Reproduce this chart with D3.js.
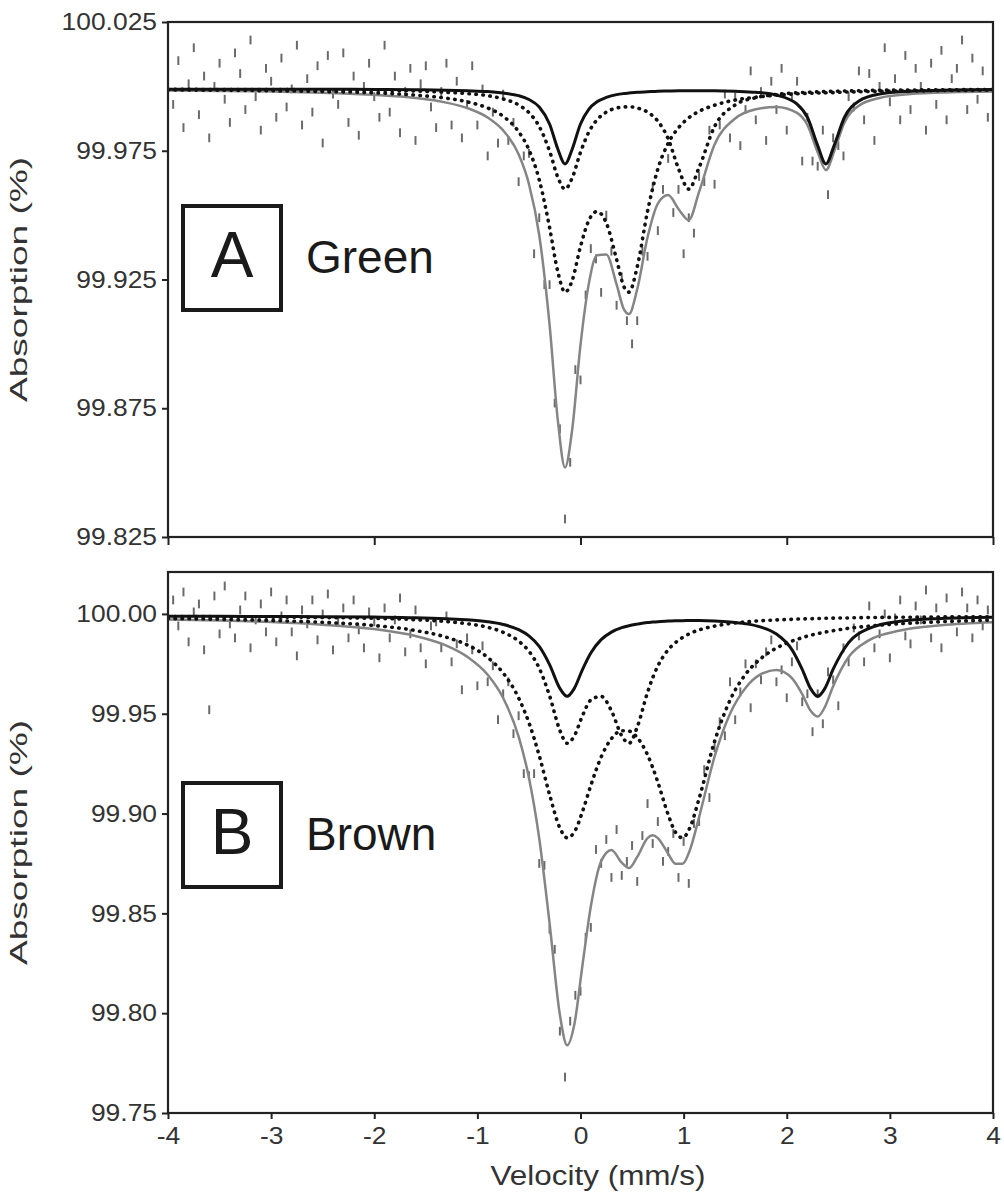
<!DOCTYPE html>
<html>
<head>
<meta charset="utf-8">
<script src="https://cdn.jsdelivr.net/npm/d3@7"></script>
<style>
body { margin: 0; background: #fff; }
text { font-family: "Liberation Sans", Arial, sans-serif; }
</style>
</head>
<body>
<svg id="chart" width="1004" height="1195"></svg>
<script>
// velocity channels of the measured spectra (mm/s)
var dataVel = [-4, -3.95, -3.9, -3.85, -3.8, -3.75, -3.7, -3.65, -3.6, -3.55, -3.5, -3.45, -3.4, -3.35, -3.3, -3.25, -3.2, -3.15, -3.1, -3.05,
	-3, -2.95, -2.9, -2.85, -2.8, -2.75, -2.7, -2.65, -2.6, -2.55, -2.5, -2.45, -2.4, -2.35, -2.3, -2.25, -2.2, -2.15, -2.1, -2.05,
	-2, -1.95, -1.9, -1.85, -1.8, -1.75, -1.7, -1.65, -1.6, -1.55, -1.5, -1.45, -1.4, -1.35, -1.3, -1.25, -1.2, -1.15, -1.1, -1.05,
	-1, -0.95, -0.9, -0.85, -0.8, -0.75, -0.7, -0.65, -0.6, -0.55, -0.5, -0.45, -0.4, -0.35, -0.3, -0.25, -0.2, -0.15, -0.1, -0.05,
	0, 0.05, 0.1, 0.15, 0.2, 0.25, 0.3, 0.35, 0.4, 0.45, 0.5, 0.55, 0.6, 0.65, 0.7, 0.75, 0.8, 0.85, 0.9, 0.95,
	1, 1.05, 1.1, 1.15, 1.2, 1.25, 1.3, 1.35, 1.4, 1.45, 1.5, 1.55, 1.6, 1.65, 1.7, 1.75, 1.8, 1.85, 1.9, 1.95,
	2, 2.05, 2.1, 2.15, 2.2, 2.25, 2.3, 2.35, 2.4, 2.45, 2.5, 2.55, 2.6, 2.65, 2.7, 2.75, 2.8, 2.85, 2.9, 2.95,
	3, 3.05, 3.1, 3.15, 3.2, 3.25, 3.3, 3.35, 3.4, 3.45, 3.5, 3.55, 3.6, 3.65, 3.7, 3.75, 3.8, 3.85, 3.9, 3.95, 4];

// measured absorption (%), panel A (green) and panel B (brown)
var absA = [100.006, 99.993, 100.010, 99.984, 100.001, 100.015, 99.989, 100.004, 99.980, 100.000,
	100.009, 99.995, 99.986, 100.013, 100.005, 99.991, 100.018, 99.996, 99.983, 100.007,
	100.002, 99.988, 100.011, 99.992, 99.999, 100.016, 99.985, 100.003, 99.990, 100.008,
	99.978, 100.012, 99.997, 99.993, 100.013, 99.986, 100.004, 99.981, 100.000, 100.009,
	99.996, 99.988, 100.016, 99.990, 100.004, 99.982, 99.998, 100.007, 99.979, 100.001,
	100.008, 99.992, 99.984, 99.998, 100.009, 99.985, 100.002, 99.980, 99.993, 100.008,
	99.985, 99.999, 99.973, 99.990, 99.978, 99.997, 99.979, 99.986, 99.963, 99.973,
	99.974, 99.935, 99.949, 99.923, 99.923, 99.877, 99.867, 99.832, 99.854, 99.890,
	99.886, 99.919, 99.937, 99.933, 99.920, 99.950, 99.936, 99.915, 99.926, 99.909,
	99.900, 99.909, 99.936, 99.934, 99.961, 99.944, 99.960, 99.972, 99.951, 99.960,
	99.935, 99.949, 99.943, 99.965, 99.963, 99.983, 99.962, 99.985, 99.997, 99.980,
	99.996, 99.977, 99.991, 100.006, 99.987, 99.998, 99.979, 100.002, 99.991, 100.007,
	99.983, 99.996, 100.002, 99.971, 99.988, 99.971, 99.969, 99.983, 99.958, 99.980,
	99.977, 99.973, 99.996, 99.992, 100.006, 99.987, 100.005, 99.979, 100.000, 100.015,
	99.994, 100.003, 99.987, 100.012, 99.991, 100.007, 100.000, 99.983, 100.009, 99.993,
	100.014, 99.987, 100.003, 100.007, 100.018, 99.991, 100.011, 99.995, 100.006, 99.988, 100.012];

var absB = [99.991, 100.007, 99.994, 100.011, 99.986, 100.001, 100.005, 99.982, 99.952, 100.009,
	99.990, 100.014, 99.995, 99.988, 100.002, 100.009, 99.983, 99.997, 100.005, 99.991,
	100.011, 99.986, 99.999, 100.007, 99.991, 99.979, 100.002, 99.995, 100.007, 99.987,
	100.000, 100.010, 99.982, 99.996, 100.003, 99.988, 100.007, 99.992, 99.983, 100.001,
	99.996, 99.978, 100.003, 99.988, 99.997, 100.008, 99.981, 99.990, 100.002, 99.983,
	99.975, 99.994, 99.996, 99.983, 99.999, 99.976, 99.985, 99.962, 99.988, 99.982,
	99.964, 99.984, 99.966, 99.974, 99.947, 99.960, 99.966, 99.940, 99.949, 99.920,
	99.919, 99.920, 99.875, 99.874, 99.842, 99.832, 99.791, 99.768, 99.796, 99.809,
	99.811, 99.838, 99.843, 99.882, 99.875, 99.887, 99.868, 99.892, 99.869, 99.876,
	99.884, 99.866, 99.889, 99.905, 99.885, 99.896, 99.876, 99.881, 99.890, 99.868,
	99.886, 99.865, 99.895, 99.896, 99.922, 99.908, 99.933, 99.946, 99.939, 99.966,
	99.947, 99.961, 99.975, 99.953, 99.975, 99.967, 99.981, 99.987, 99.966, 99.972,
	99.958, 99.976, 99.984, 99.956, 99.960, 99.941, 99.960, 99.945, 99.971, 99.967,
	99.954, 99.983, 99.976, 99.993, 99.989, 99.976, 100.004, 99.983, 99.990, 100.000,
	99.978, 99.998, 100.007, 99.989, 99.985, 100.004, 99.997, 100.012, 99.988, 100.003,
	99.983, 100.008, 99.997, 99.991, 100.011, 100.003, 99.988, 100.007, 99.994, 100.002, 99.987];

// half length of the error bars (%)
var errA = 0.0017;
var errB = 0.0022;

// fitted sub-spectra, panel A
var fitVelA = [-4, -3.5, -3, -2.5, -2, -1.6, -1.3, -1.1, -0.9, -0.75, -0.6, -0.5, -0.4, -0.3, -0.22, -0.15, -0.08, 0, 0.08, 0.16,
	0.25, 0.35, 0.42, 0.47, 0.55, 0.65, 0.75, 0.85, 0.95, 1.05, 1.15, 1.3, 1.5, 1.7, 1.9, 2.1, 2.2, 2.3, 2.38, 2.46,
	2.56, 2.7, 2.9, 3.2, 3.6, 4];
var solidA = [99.9989, 99.9989, 99.9989, 99.9989, 99.9988, 99.9987, 99.9985, 99.9983, 99.9980, 99.9974,
	99.9964, 99.9949, 99.9920, 99.9854, 99.9757, 99.9699, 99.9757, 99.9854, 99.9911, 99.9940,
	99.9957, 99.9968, 99.9972, 99.9974, 99.9977, 99.9979, 99.9981, 99.9982, 99.9983, 99.9983,
	99.9983, 99.9983, 99.9981, 99.9977, 99.9966, 99.9931, 99.9880, 99.9770, 99.9699, 99.9771,
	99.9880, 99.9943, 99.9970, 99.9981, 99.9986, 99.9988];
var dotted1A = [99.9989, 99.9988, 99.9988, 99.9986, 99.9985, 99.9982, 99.9977, 99.9972, 99.9964, 99.9951,
	99.9928, 99.9898, 99.9844, 99.9749, 99.9647, 99.9601, 99.9645, 99.9744, 99.9822, 99.9870,
	99.9900, 99.9916, 99.9920, 99.9921, 99.9916, 99.9900, 99.9865, 99.9797, 99.9681, 99.9601,
	99.9685, 99.9844, 99.9928, 99.9956, 99.9969, 99.9975, 99.9977, 99.9979, 99.9980, 99.9981,
	99.9982, 99.9983, 99.9985, 99.9986, 99.9987, 99.9988];
var dotted2A = [99.9986, 99.9985, 99.9983, 99.9980, 99.9975, 99.9966, 99.9954, 99.9940, 99.9916, 99.9884,
	99.9824, 99.9754, 99.9637, 99.9452, 99.9280, 99.9201, 99.9247, 99.9378, 99.9479, 99.9514,
	99.9470, 99.9328, 99.9223, 99.9201, 99.9299, 99.9515, 99.9679, 99.9779, 99.9839, 99.9878,
	99.9903, 99.9927, 99.9947, 99.9958, 99.9966, 99.9971, 99.9973, 99.9974, 99.9975, 99.9976,
	99.9978, 99.9979, 99.9981, 99.9982, 99.9984, 99.9985];
var totalA = [99.9984, 99.9982, 99.9980, 99.9975, 99.9967, 99.9955, 99.9937, 99.9916, 99.9879, 99.9829,
	99.9736, 99.9621, 99.9422, 99.9075, 99.8704, 99.8520, 99.8669, 99.8996, 99.9232, 99.9344,
	99.9347, 99.9231, 99.9135, 99.9116, 99.9212, 99.9414, 99.9545, 99.9578, 99.9524, 99.9481,
	99.9590, 99.9774, 99.9875, 99.9911, 99.9920, 99.9897, 99.9850, 99.9744, 99.9675, 99.9748,
	99.9860, 99.9925, 99.9955, 99.9970, 99.9977, 99.9980];

// fitted sub-spectra, panel B
var fitVelB = [-4, -3.5, -3, -2.5, -2, -1.6, -1.3, -1.1, -0.9, -0.75, -0.6, -0.5, -0.4, -0.3, -0.2, -0.13, -0.06, 0.02, 0.1, 0.2,
	0.3, 0.4, 0.47, 0.55, 0.65, 0.7, 0.75, 0.85, 0.92, 0.99, 1.06, 1.15, 1.3, 1.45, 1.6, 1.75, 1.9, 2.05, 2.15, 2.23,
	2.3, 2.37, 2.45, 2.6, 2.8, 3.1, 3.5, 4];
var solidB = [99.9988, 99.9988, 99.9987, 99.9986, 99.9984, 99.9981, 99.9976, 99.9971, 99.9961, 99.9947,
	99.9921, 99.9890, 99.9837, 99.9746, 99.9627, 99.9587, 99.9627, 99.9722, 99.9804, 99.9871,
	99.9909, 99.9931, 99.9941, 99.9949, 99.9957, 99.9959, 99.9961, 99.9964, 99.9966, 99.9966,
	99.9967, 99.9967, 99.9965, 99.9960, 99.9951, 99.9934, 99.9899, 99.9821, 99.9722, 99.9627,
	99.9587, 99.9627, 99.9723, 99.9856, 99.9928, 99.9963, 99.9977, 99.9983];
var dotted1B = [99.9987, 99.9986, 99.9984, 99.9982, 99.9978, 99.9971, 99.9962, 99.9951, 99.9933, 99.9908,
	99.9864, 99.9813, 99.9728, 99.9590, 99.9417, 99.9352, 99.9389, 99.9491, 99.9569, 99.9587,
	99.9515, 99.9389, 99.9352, 99.9433, 99.9607, 99.9680, 99.9739, 99.9820, 99.9856, 99.9882,
	99.9902, 99.9920, 99.9939, 99.9952, 99.9960, 99.9966, 99.9970, 99.9973, 99.9975, 99.9976,
	99.9977, 99.9978, 99.9979, 99.9980, 99.9982, 99.9983, 99.9985, 99.9986];
var dotted2B = [99.9977, 99.9973, 99.9967, 99.9958, 99.9942, 99.9917, 99.9883, 99.9845, 99.9782, 99.9704,
	99.9579, 99.9455, 99.9290, 99.9095, 99.8928, 99.8879, 99.8907, 99.9011, 99.9141, 99.9283,
	99.9375, 99.9415, 99.9413, 99.9381, 99.9294, 99.9231, 99.9157, 99.8995, 99.8907, 99.8879,
	99.8928, 99.9075, 99.9361, 99.9568, 99.9697, 99.9777, 99.9829, 99.9864, 99.9881, 99.9893,
	99.9901, 99.9909, 99.9916, 99.9928, 99.9939, 99.9951, 99.9961, 99.9969];
var totalB = [99.9972, 99.9967, 99.9959, 99.9946, 99.9924, 99.9889, 99.9841, 99.9786, 99.9695, 99.9579,
	99.9385, 99.9179, 99.8875, 99.8451, 99.7992, 99.7839, 99.7943, 99.8244, 99.8534, 99.8761,
	99.8818, 99.8754, 99.8727, 99.8783, 99.8877, 99.8891, 99.8877, 99.8799, 99.8749, 99.8748,
	99.8816, 99.8982, 99.9285, 99.9500, 99.9629, 99.9698, 99.9719, 99.9678, 99.9598, 99.9516,
	99.9486, 99.9534, 99.9638, 99.9784, 99.9869, 99.9917, 99.9943, 99.9958];

// axis ticks
var xTicksB = [-4, -3, -2, -1, 0, 1, 2, 3, 4];
var xTicksA = [-4, -2, 0, 2, 4];
var yTicksA = [99.825, 99.875, 99.925, 99.975, 100.025];
var yTicksB = [99.75, 99.80, 99.85, 99.90, 99.95, 100.00];

var svg = d3.select("#chart");
var left = 168, right = 993;

var x = d3.scaleLinear().domain([-4, 4]).range([left, right]);

// the original lettering is a little wider than Arial
function widen(sel, k) {
	sel.each(function() {
		var w = this.getComputedTextLength();
		d3.select(this).attr("textLength", w * k).attr("lengthAdjust", "spacingAndGlyphs");
	});
}

function drawPanel(p) {
	var y = d3.scaleLinear().domain(p.yDomain).range([p.bottom, p.top]);
	var g = svg.append("g");

	g.append("clipPath").attr("id", p.id + "_clip")
		.append("rect")
		.attr("x", left).attr("y", p.top)
		.attr("width", right - left).attr("height", p.bottom - p.top);

	var plot = g.append("g").attr("clip-path", "url(#" + p.id + "_clip)");

	// measured points, drawn as short error bars
	plot.selectAll("line.pt")
		.data(p.abs)
		.enter()
		.append("line")
		.attr("class", "pt")
		.attr("x1", function(d, i) { return x(dataVel[i]); })
		.attr("x2", function(d, i) { return x(dataVel[i]); })
		.attr("y1", function(d) { return y(d + p.err); })
		.attr("y2", function(d) { return y(d - p.err); })
		.style("stroke", "#6a6a6a")
		.style("stroke-width", 2);

	function addCurve(vals, stroke, width, dash) {
		var line = d3.line()
			.x(function(d, i) { return x(p.vel[i]); })
			.y(function(d) { return y(d); })
			.curve(d3.curveMonotoneX);
		var path = plot.append("path")
			.datum(vals)
			.attr("d", line)
			.style("fill", "none")
			.style("stroke", stroke)
			.style("stroke-width", width);
		if (dash) {
			path.style("stroke-dasharray", dash).style("stroke-linecap", "round");
		}
	}

	addCurve(p.total, "#858585", 2.5);
	addCurve(p.dotted1, "#111", 3.6, "0.5,6.5");
	addCurve(p.dotted2, "#111", 3.6, "0.5,6.5");
	addCurve(p.solid, "#111", 3);

	// axes
	var yAxis = d3.axisLeft(y)
		.tickValues(p.yTicks)
		.tickFormat(d3.format(p.yFormat))
		.tickSize(6)
		.tickPadding(5);
	var ya = g.append("g").attr("transform", "translate(" + left + ",0)").call(yAxis);
	ya.select(".domain").remove();

	var xAxis = d3.axisBottom(x)
		.tickValues(p.xTicks)
		.tickFormat(function(d) { return p.xLabels ? String(d) : ""; })
		.tickSize(p.xTickSize)
		.tickPadding(8);
	var xa = g.append("g").attr("transform", "translate(0," + p.bottom + ")").call(xAxis);
	xa.select(".domain").remove();

	g.selectAll(".tick line").style("stroke", "#222").style("stroke-width", 2);
	g.selectAll(".tick text")
		.style("font-size", "24px")
		.style("fill", "#333")
		.style("font-family", "'Liberation Sans', Arial, sans-serif");
	widen(ya.selectAll(".tick text"), 1.1);
	widen(xa.selectAll(".tick text"), 1.1);

	// frame
	g.append("rect")
		.attr("x", left).attr("y", p.top)
		.attr("width", right - left).attr("height", p.bottom - p.top)
		.style("fill", "none")
		.style("stroke", "#222")
		.style("stroke-width", 2.2);

	// y title
	g.append("text")
		.attr("transform", "translate(27," + ((p.top + p.bottom) / 2) + ") rotate(-90)")
		.attr("text-anchor", "middle")
		.attr("textLength", 245)
		.attr("lengthAdjust", "spacingAndGlyphs")
		.style("font-size", "24px")
		.style("fill", "#333")
		.text("Absorption (%)");

	// sample label
	g.append("rect")
		.attr("x", 183).attr("y", p.boxTop)
		.attr("width", 98).attr("height", 104)
		.style("fill", "none")
		.style("stroke", "#1a1a1a")
		.style("stroke-width", 4);
	g.append("text")
		.attr("x", 232).attr("y", p.boxTop + 71)
		.attr("text-anchor", "middle")
		.style("font-size", "64px")
		.style("fill", "#1a1a1a")
		.text(p.letter);
	g.append("text")
		.attr("x", 306).attr("y", p.boxTop + 67)
		.style("font-size", "46px")
		.style("fill", "#1a1a1a")
		.text(p.name);
}

drawPanel({
	id: "pA", top: 22, bottom: 537, yDomain: [99.825, 100.025],
	yTicks: yTicksA, yFormat: ".3f", xTicks: xTicksA, xLabels: false, xTickSize: 8,
	abs: absA, err: errA, vel: fitVelA,
	solid: solidA, dotted1: dotted1A, dotted2: dotted2A, total: totalA,
	boxTop: 206, letter: "A", name: "Green"
});

drawPanel({
	id: "pB", top: 572, bottom: 1113, yDomain: [99.75, 100.021],
	yTicks: yTicksB, yFormat: ".2f", xTicks: xTicksB, xLabels: true, xTickSize: 6,
	abs: absB, err: errB, vel: fitVelB,
	solid: solidB, dotted1: dotted1B, dotted2: dotted2B, total: totalB,
	boxTop: 783, letter: "B", name: "Brown"
});

svg.append("text")
	.attr("x", 598).attr("y", 1185)
	.attr("text-anchor", "middle")
	.attr("textLength", 215)
	.attr("lengthAdjust", "spacingAndGlyphs")
	.style("font-size", "27px")
	.style("fill", "#333")
	.text("Velocity (mm/s)");
</script>
</body>
</html>
